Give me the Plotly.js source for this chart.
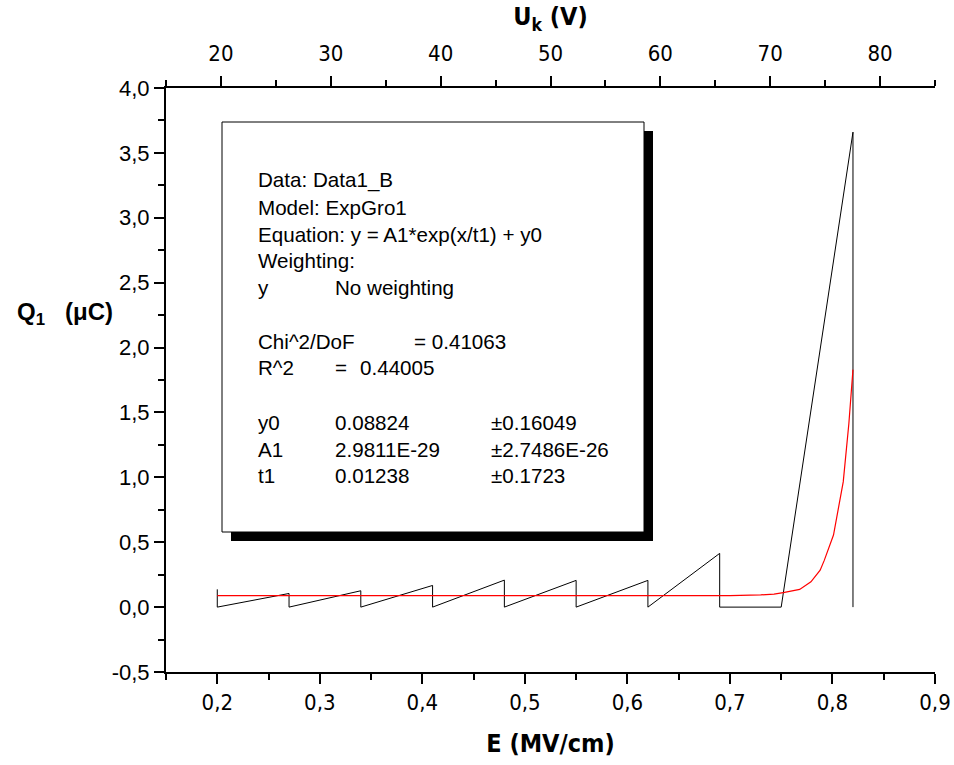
<!DOCTYPE html>
<html>
<head>
<meta charset="utf-8">
<script src="https://cdn.plot.ly/plotly-3.0.1.min.js"></script>
<style>
  html, body { margin: 0; padding: 0; background: #fff; }
  #chart { width: 954px; height: 765px; }
</style>
</head>
<body>
<div id="chart"></div>
<script>
// ---- Data ----
const measE = [0.20, 0.20, 0.27, 0.27, 0.34, 0.34, 0.41, 0.41, 0.48, 0.48, 0.55, 0.55, 0.62, 0.62, 0.69, 0.69, 0.75, 0.82, 0.82];
const measQ = [0.137, 0.0, 0.105, 0.0, 0.126, 0.0, 0.167, 0.0, 0.208, 0.0, 0.206, 0.0, 0.206, 0.0, 0.414, 0.0, 0.0, 3.66, 0.0];

const fitE = [0.20, 0.60, 0.70, 0.73, 0.743, 0.752, 0.768, 0.779, 0.788, 0.792, 0.801, 0.8105, 0.816, 0.82];
const fitQ = [0.088, 0.088, 0.089, 0.094, 0.100, 0.112, 0.136, 0.195, 0.285, 0.36, 0.555, 0.965, 1.415, 1.83];

// tick values / labels
const xTickVals = [0.2, 0.3, 0.4, 0.5, 0.6, 0.7, 0.8, 0.9];
const xTickText = ["0,2", "0,3", "0,4", "0,5", "0,6", "0,7", "0,8", "0,9"];
const yTickVals = [-0.5, 0.0, 0.5, 1.0, 1.5, 2.0, 2.5, 3.0, 3.5, 4.0];
const yTickText = ["-0,5", "0,0", "0,5", "1,0", "1,5", "2,0", "2,5", "3,0", "3,5", "4,0"];
const topTickVals = [20, 30, 40, 50, 60, 70, 80];
const topTickText = ["20", "30", "40", "50", "60", "70", "80"];

// fit report text
const reportLines = [
  ["Data: Data1_B"],
  ["Model: ExpGro1"],
  ["Equation: y = A1*exp(x/t1) + y0"],
  ["Weighting:"],
  ["y", "No weighting"],
  null,
  ["Chi^2/DoF", null, "= 0.41063"],
  ["R^2", "=", "0.44005"],
  null,
  ["y0", "0.08824", "±0.16049"],
  ["A1", "2.9811E-29", "±2.7486E-26"],
  ["t1", "0.01238", "±0.1723"]
];

// ---- layout helpers (pixel -> paper) ----
const W = 954, H = 765;
const M = { l: 166, r: 19, t: 88, b: 93 };
const PW = W - M.l - M.r, PH = H - M.t - M.b;
const px = v => (v - M.l) / PW;
const py = v => (H - M.b - v) / PH;

const narrow = "Liberation Sans Narrow, Arial Narrow, DejaVu Sans Condensed, sans-serif";
const arial = "Liberation Sans, Arial, Helvetica, sans-serif";

const traces = [
  { x: measE, y: measQ, type: 'scatter', mode: 'lines',
    line: { color: '#000000', width: 1 }, hoverinfo: 'skip', showlegend: false },
  { x: fitE, y: fitQ, type: 'scatter', mode: 'lines',
    line: { color: '#ff0000', width: 1.2 }, hoverinfo: 'skip', showlegend: false }
];

// report annotations
const annotations = [];
const lineY = [180, 207.3, 234, 260.7, 287.3, 314, 341, 367.7, 395, 422.3, 449, 475.7];
reportLines.forEach((row, i) => {
  if (!row) return;
  let cols;
  if (i === 6) cols = [255.7, null, 411.7];
  else if (i === 7) cols = [255.7, 333.3, 358.3];
  else cols = [255.7, 333.3, 489.3];
  row.forEach((t, j) => {
    if (t === null || t === undefined) return;
    annotations.push({
      xref: 'paper', yref: 'paper', x: px(cols[j]), y: py(lineY[i]),
      xanchor: 'left', yanchor: 'middle', showarrow: false, text: t,
      font: { family: arial, size: 20.6, color: '#000' }
    });
  });
});

// horizontal y-axis title
annotations.push({
  xref: 'paper', yref: 'paper', x: px(65), y: py(313),
  xanchor: 'center', yanchor: 'middle', showarrow: false,
  text: '<b>Q<sub>1</sub>&nbsp;&nbsp;&nbsp;(μC)</b>',
  font: { family: arial, size: 24, color: '#000' }
});

const shapes = [
  { type: 'rect', xref: 'paper', yref: 'paper', layer: 'above',
    x0: px(231), x1: px(653), y0: py(131), y1: py(541),
    fillcolor: '#000', line: { width: 0 } },
  { type: 'rect', xref: 'paper', yref: 'paper', layer: 'above',
    x0: px(222), x1: px(644), y0: py(122), y1: py(532),
    fillcolor: '#fff', line: { color: '#000', width: 1 } }
];

const axisCommon = {
  showgrid: false, zeroline: false, showline: true, linecolor: '#000', linewidth: 2,
  ticks: 'outside', ticklen: 10, tickwidth: 2, tickcolor: '#000', mirror: false
};

const layout = {
  width: W, height: H,
  margin: M,
  paper_bgcolor: '#fff', plot_bgcolor: '#fff',
  showlegend: false,
  xaxis: Object.assign({}, axisCommon, {
    range: [0.15, 0.9], tickmode: 'array', tickvals: xTickVals, ticktext: xTickText,
    tickfont: { family: narrow, size: 22, color: '#000' },
    minor: { ticks: 'outside', ticklen: 6, tickwidth: 2, tickcolor: '#000', tickmode: 'linear', tick0: 0.15, dtick: 0.05, showgrid: false },
    title: { text: '<b>E (MV/cm)</b>', font: { family: narrow, size: 25, color: '#000' }, standoff: 20 }
  }),
  xaxis2: Object.assign({}, axisCommon, {
    overlaying: 'x', side: 'top', anchor: 'y',
    range: [15, 85], tickmode: 'array', tickvals: topTickVals, ticktext: topTickText,
    tickfont: { family: narrow, size: 22, color: '#000' },
    ticklabelstandoff: 6,
    minor: { ticks: 'outside', ticklen: 6, tickwidth: 2, tickcolor: '#000', tickmode: 'linear', tick0: 15, dtick: 5, showgrid: false },
    title: { text: '<b>U<sub>k</sub> (V)</b>', font: { family: narrow, size: 25, color: '#000' }, standoff: 8 }
  }),
  yaxis: Object.assign({}, axisCommon, {
    range: [-0.5, 4.0], tickmode: 'array', tickvals: yTickVals, ticktext: yTickText,
    tickfont: { family: arial, size: 22, color: '#000' },
    minor: { ticks: 'outside', ticklen: 6, tickwidth: 2, tickcolor: '#000', tickmode: 'linear', tick0: -0.5, dtick: 0.25, showgrid: false }
  }),
  annotations: annotations,
  shapes: shapes
};

// invisible helper trace so the top axis gets a subplot
traces.push({ x: topTickVals, y: topTickVals.map(() => null), xaxis: 'x2', yaxis: 'y',
  type: 'scatter', mode: 'none', hoverinfo: 'skip', showlegend: false });

Plotly.newPlot('chart', traces, layout, { staticPlot: true, displayModeBar: false });
</script>
</body>
</html>
